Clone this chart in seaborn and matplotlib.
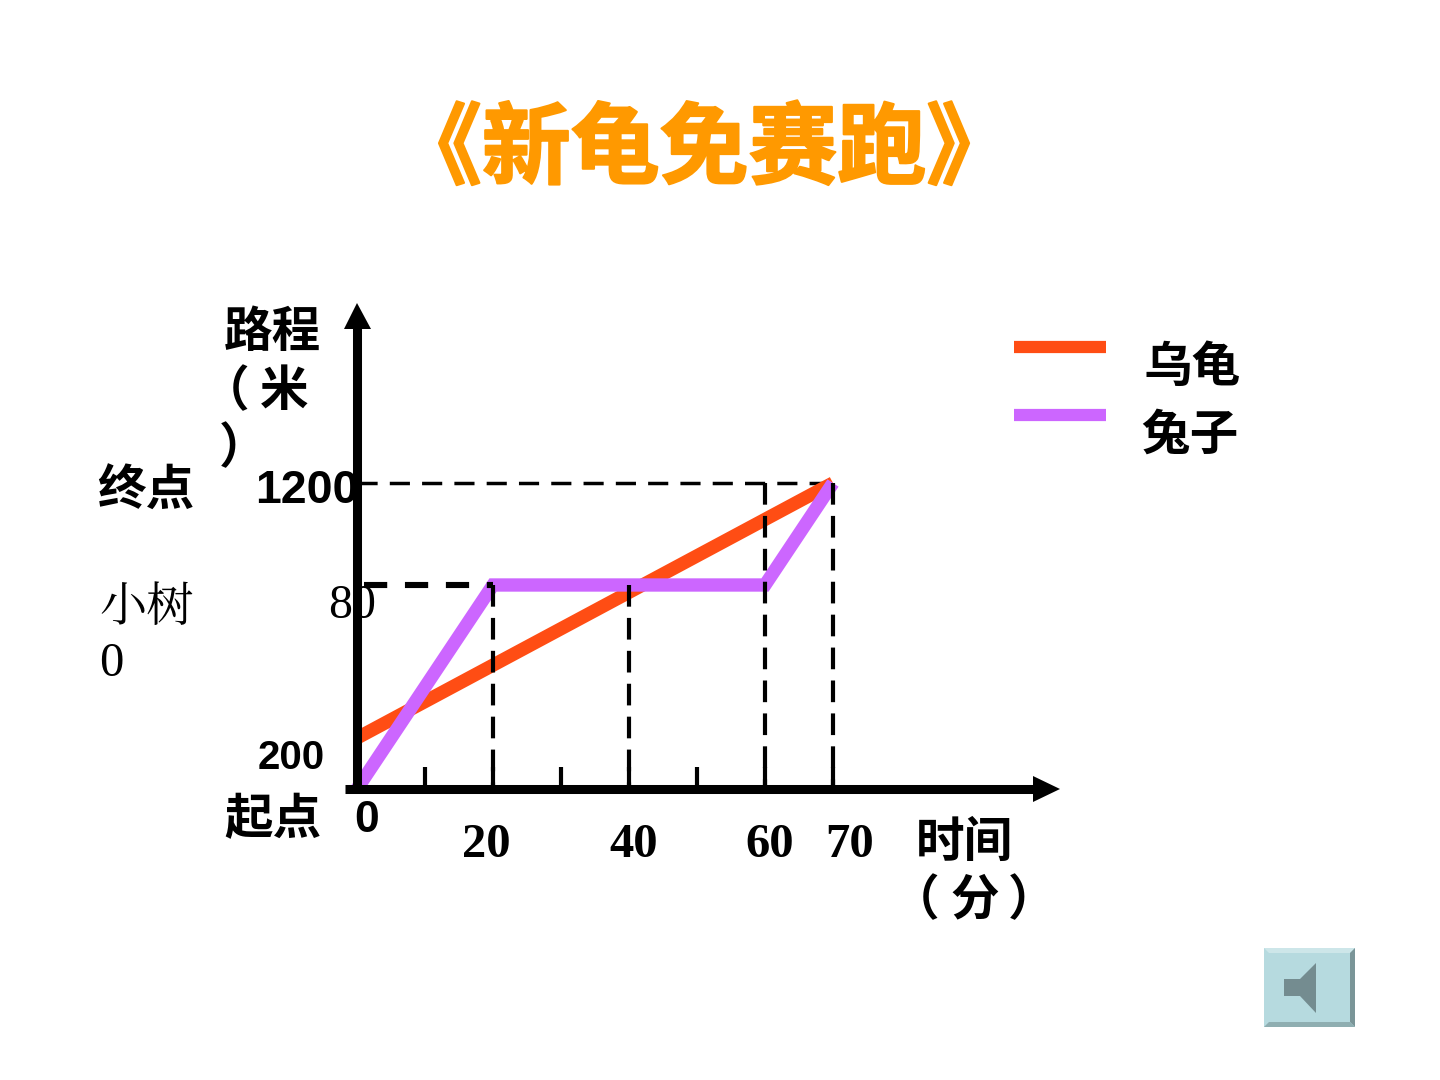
import matplotlib
matplotlib.use("Agg")
import matplotlib.pyplot as plt
import matplotlib.patheffects as pe
from matplotlib.patches import Polygon
import pandas as pd
import seaborn as sns

sns.set_theme(style="white")
plt.rcParams["font.family"] = ["Noto Sans CJK SC", "DejaVu Sans"]
SERIF = ["Liberation Serif", "Noto Serif CJK SC", "Noto Sans CJK SC"]
SANS = ["Liberation Sans", "Noto Sans CJK SC"]

# Race data: minutes against metres
tortoise_time = [0, 70]
tortoise_dist = [200, 1200]
rabbit_time = [0, 20, 60, 70]
rabbit_dist = [0, 800, 800, 1200]
guide_times = [20, 40, 60, 70]
guide_levels = [800, 800, 1200, 1200]
minor_ticks = [10, 30, 50]
x_labels = ["20", "40", "60", "70"]
series_names = ["乌龟", "兔子"]

TORTOISE = "#FF4D14"
RABBIT = "#CC66FF"

W, H = 1440, 1080
X0, Y0 = 357, 789          # pixel position of the origin
PX_PER_MIN, PX_PER_M = 6.8, 0.255


def px(x, y):
    """Pixel position on the canvas to data coordinates."""
    return (x - X0) / PX_PER_MIN, (Y0 - y) / PX_PER_M


fig = plt.figure(figsize=(W / 100, H / 100), dpi=100, facecolor="white")
ax = fig.add_axes([0, 0, 1, 1])
ax.set_xlim(px(0, 0)[0], px(W, 0)[0])
ax.set_ylim(px(0, H)[1], px(0, 0)[1])
ax.axis("off")

# The two runners
tortoise = pd.DataFrame({"t": tortoise_time, "d": tortoise_dist})
rabbit = pd.DataFrame({"t": rabbit_time, "d": rabbit_dist})
sns.lineplot(data=tortoise, x="t", y="d", color=TORTOISE, lw=9.6, ax=ax, zorder=3, legend=False,
             solid_capstyle="butt")
sns.lineplot(data=rabbit, x="t", y="d", color=RABBIT, lw=9.6, ax=ax, zorder=3, legend=False,
             solid_capstyle="butt", solid_joinstyle="miter")
ax.set_xlabel("")
ax.set_ylabel("")

# Dashed guides from the turning points to the axes
for t, level in zip(guide_times, guide_levels):
    ax.plot([t, t], [level, 0], color="black", lw=3, ls=(0, (5.2, 2.7)), zorder=4)
ax.plot([0, 70], [1200, 1200], color="black", lw=2.5, ls=(0, (5.8, 3.5)), zorder=2)
ax.plot([1, 20], [800, 800], color="black", lw=4.4, ls=(0, (3.8, 2.9)), zorder=4)

# Axes with arrow heads
ax.plot(*zip(px(X0, Y0), px(X0, 325)), color="black", lw=6.5, zorder=5, solid_capstyle="butt")
ax.plot(*zip(px(345, Y0), px(1035, Y0)), color="black", lw=6.5, zorder=5, solid_capstyle="butt")
ax.add_patch(Polygon([px(357, 303), px(344, 329), px(371, 329)], color="black", zorder=5, lw=0))
ax.add_patch(Polygon([px(1060, 789), px(1033, 776), px(1033, 802)], color="black", zorder=5, lw=0))
for t in minor_ticks + guide_times:
    ax.plot([t, t], [0, 86], color="black", lw=3, zorder=4, solid_capstyle="butt")


def label(x, y, s, size=35, family=SANS, weight="bold"):
    ax.text(*px(x, y), s, fontsize=size, family=family, weight=weight,
            color="black", ha="left", va="center", zorder=6)


# Title
ax.text(*px(704, 151), "《新龟免赛跑》", fontsize=64, color="#FF9900", weight="bold",
        family=["Noto Sans CJK SC"], ha="center", va="center",
        path_effects=[pe.withStroke(linewidth=1.5, foreground="#FF9900")])

# Axis captions and landmarks
label(224, 334, "路程")
label(201, 393, "（")
label(260, 393, "米")
label(219, 450, "）")
label(97, 493, "终点")
label(255, 491, "1200", 33.5)
label(258, 758, "200", 29)
label(224, 821, "起点")
label(354, 821, "0", 32)
label(99, 608, "小树", 34, family=["Noto Serif CJK SC", "Noto Sans CJK SC"], weight="normal")
label(99, 664, "0", 35, family=SERIF, weight="normal")
label(328, 606, "80", 34.5, family=SERIF, weight="normal")
for s, x in zip(x_labels, [462, 609, 745, 825]):
    label(x, 845, s, 35, family=SERIF)
label(916, 844, "时间")
label(891, 902, "（")
label(950, 902, "分")
label(1008, 902, "）")

# Legend keys and names
for yk, colour, name, ytext, xtext in zip([347, 415], [TORTOISE, RABBIT], series_names, [369, 437], [1144, 1141]):
    ax.plot(*zip(px(1014, yk), px(1106, yk)), color=colour, lw=8.8, solid_capstyle="butt")
    label(xtext, ytext, name, 35)

# Sound button
bx0, bx1, by0, by1 = 1264, 1355, 948, 1027
b = 5
ax.add_patch(Polygon([px(bx0, by0), px(bx1, by0), px(bx1, by1), px(bx0, by1)], fc="#B6DADF", lw=0, zorder=6))
ax.add_patch(Polygon([px(bx0, by0), px(bx1, by0), px(bx1 - b, by0 + b), px(bx0 + b, by0 + b)], fc="#CDE6E9", lw=0, zorder=7))
ax.add_patch(Polygon([px(bx1, by0), px(bx1, by1), px(bx1 - b, by1 - b), px(bx1 - b, by0 + b)], fc="#7A9598", lw=0, zorder=7))
ax.add_patch(Polygon([px(bx0, by1), px(bx1, by1), px(bx1 - b, by1 - b), px(bx0 + b, by1 - b)], fc="#8FAEB1", lw=0, zorder=7))
ax.add_patch(Polygon([px(1284, 979), px(1300, 979), px(1316, 963), px(1316, 1013), px(1300, 996), px(1284, 996)],
                     fc="#748C90", lw=0, zorder=8))

fig.savefig("out.png", dpi=100, facecolor="white")
